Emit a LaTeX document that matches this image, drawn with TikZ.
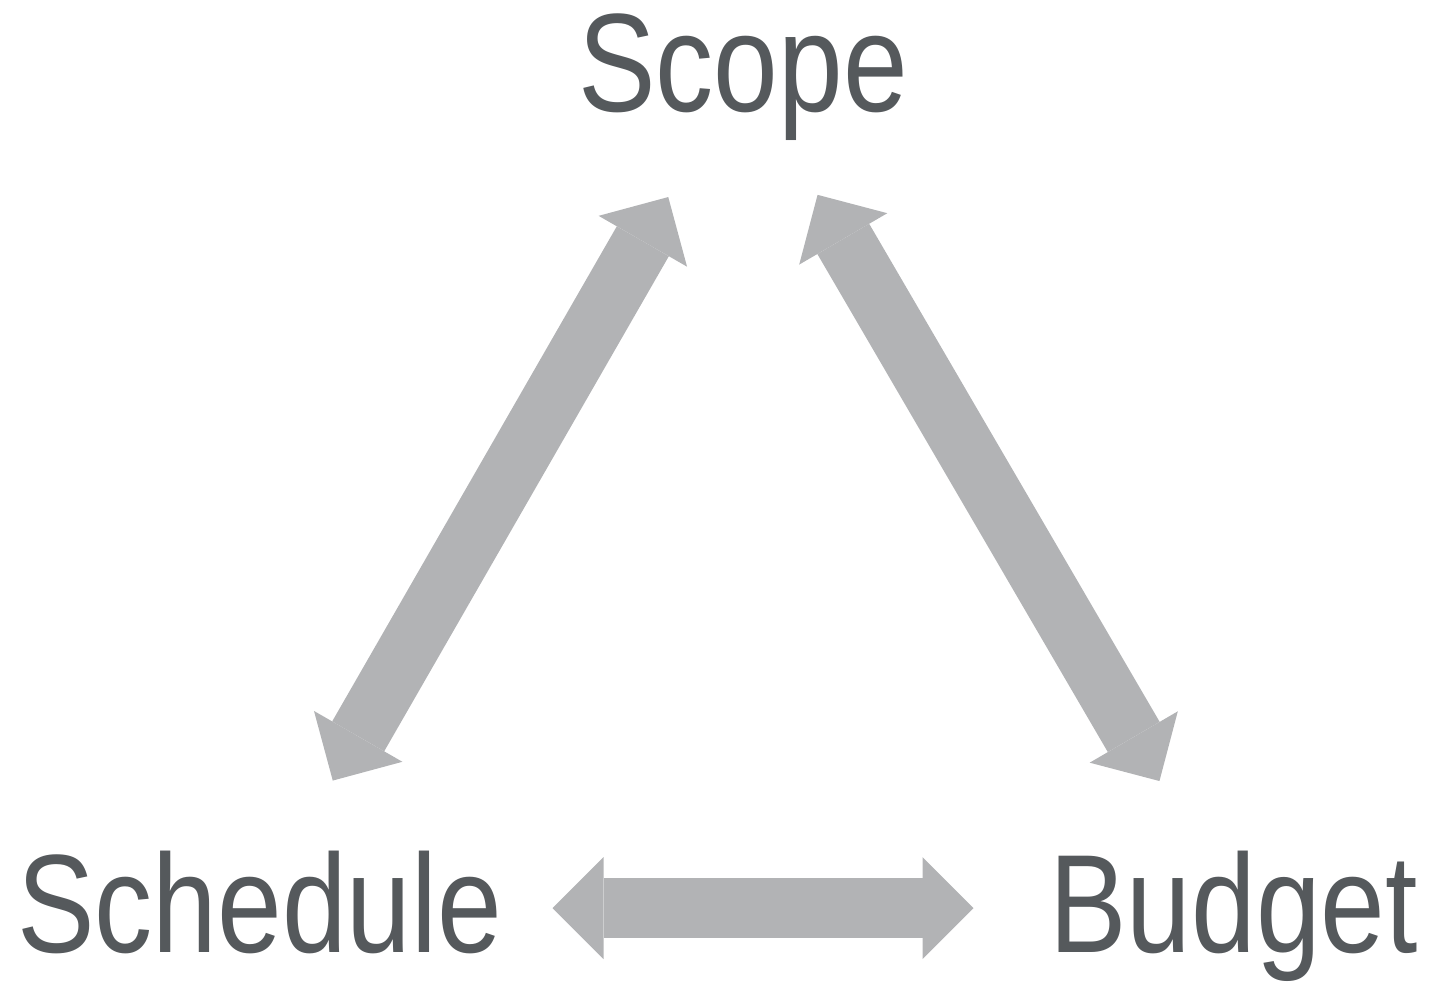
\documentclass[tikz,border=0pt]{standalone}
\usepackage{fontspec}
\setmainfont{Liberation Sans}[FakeStretch=0.83]
\usetikzlibrary{arrows.meta}
\definecolor{labelgray}{RGB}{85,89,92}
\definecolor{arrowgray}{RGB}{178,179,181}
\tikzset{
  corner/.style={inner sep=0pt, text=labelgray, text height=100pt, text depth=12pt,
    font=\fontsize{140pt}{140pt}\selectfont},
  tradeoff/.style={draw=arrowgray, line width=60pt,
    {Triangle[length=51pt,width=102pt,line width=0pt]}-{Triangle[length=51pt,width=102pt,line width=0pt]}}
}
\begin{document}
\begin{tikzpicture}[x=1pt,y=-1pt]
      \useasboundingbox (0,0) rectangle (1447,983);
      \node[corner] (scope) at (743,67) {Scope};
      \node[corner] (schedule) at (259.5,908) {Schedule};
      \node[corner] (budget) at (1233.5,908) {Budget};
      \begin{scope}[tradeoff]
        \draw[shorten <=147pt, shorten >=150pt] (schedule.center) to (scope.center);
        \draw[shorten <=148pt, shorten >=147pt] (scope.center) to (budget.center);
        \draw[shorten <=293pt, shorten >=260pt] (schedule.center) to (budget.center);
      \end{scope}
    \end{tikzpicture}
\end{document}
